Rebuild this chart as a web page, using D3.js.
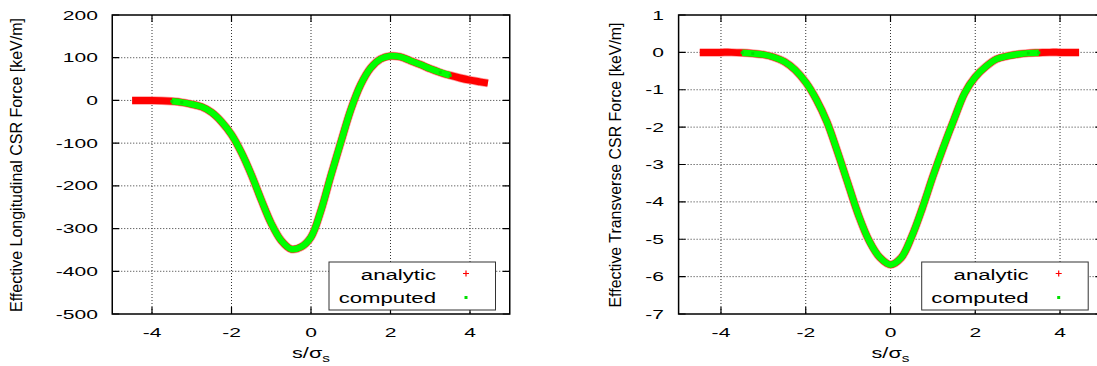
<!DOCTYPE html>
<head>
  <meta charset="utf-8">
  <script src="https://d3js.org/d3.v7.min.js"></script>
  <style>
    body { margin:0; background:#fff; overflow:hidden; }
    text { font-family: "Liberation Sans", Arial, sans-serif; fill:#000; }
  </style>
</head>
<body>
  <script>
    // longitudinal force, analytic (red) and computed (green)
    var sLong = [-4.5,-4.25,-4,-3.75,-3.5,-3.25,-3,-2.75,-2.5,-2.25,-2,-1.75,-1.5,-1.25,-1,-0.75,-0.5,-0.25,0,0.25,0.5,0.75,1,1.25,1.5,1.75,2,2.25,2.5,2.75,3,3.25,3.5,3.75,4,4.25,4.45];
    var fLong = [0,0,0,-0.5,-2,-4.5,-9,-15,-28,-50,-80,-122,-174,-233,-288,-328,-348,-343,-320,-258,-176,-98,-22,37,76,97,104,102,93,84,74,65.5,58.5,52.5,47.5,43.5,40.5];
    var sLongComp = [-3.5,-3.25,-3,-2.75,-2.5,-2.25,-2,-1.75,-1.5,-1.25,-1,-0.75,-0.5,-0.25,0,0.25,0.5,0.75,1,1.25,1.5,1.75,2,2.25,2.5,2.75,3,3.25,3.5];
    var fLongComp = [-2,-4.5,-9,-15,-28,-50,-80,-122,-174,-233,-288,-328,-348,-343,-320,-258,-176,-98,-22,37,76,97,104,102,93,84,74,65.5,58.5];

    // transverse force
    var sTrans = [-4.5,-4.25,-4,-3.75,-3.5,-3.25,-3,-2.75,-2.5,-2.25,-2,-1.75,-1.5,-1.25,-1,-0.75,-0.5,-0.25,0,0.25,0.5,0.75,1,1.25,1.5,1.75,2,2.25,2.5,2.75,3,3.25,3.5,3.75,4,4.25,4.45];
    var fTrans = [0,0,0,0,-0.01,-0.03,-0.06,-0.13,-0.25,-0.47,-0.8,-1.26,-1.86,-2.66,-3.52,-4.37,-5.05,-5.49,-5.68,-5.5,-4.93,-4.17,-3.32,-2.53,-1.79,-1.09,-0.66,-0.38,-0.18,-0.1,-0.05,-0.02,-0.01,0,0,0,0];
    var sTransComp = [-3.5,-3.25,-3,-2.75,-2.5,-2.25,-2,-1.75,-1.5,-1.25,-1,-0.75,-0.5,-0.25,0,0.25,0.5,0.75,1,1.25,1.5,1.75,2,2.25,2.5,2.75,3,3.25,3.5];
    var fTransComp = [-0.01,-0.03,-0.06,-0.13,-0.25,-0.47,-0.8,-1.26,-1.86,-2.66,-3.52,-4.37,-5.05,-5.49,-5.68,-5.5,-4.93,-4.17,-3.32,-2.53,-1.79,-1.09,-0.66,-0.38,-0.18,-0.1,-0.05,-0.02,-0.01];

    var xTicks = [-4, -2, 0, 2, 4];
    var yTicksLong = [200, 100, 0, -100, -200, -300, -400, -500];
    var yTicksTrans = [1, 0, -1, -2, -3, -4, -5, -6, -7];
    var legendNames = ["analytic", "computed"];

    var svg = d3.select("body").append("svg")
      .attr("width", 1097)
      .attr("height", 366);

    function zip(xs, ys) { return xs.map(function(x, i) { return [x, ys[i]]; }); }

    function panel(o) {
      var x = d3.scaleLinear().domain([-5, 5]).range(o.xr);
      var y = d3.scaleLinear().domain(o.yd).range([314, 15]);
      var g = svg.append("g");

      // grid
      g.selectAll(".gx").data(xTicks).enter().append("line")
        .attr("x1", function(d) { return x(d); }).attr("x2", function(d) { return x(d); })
        .attr("y1", 15).attr("y2", 314)
        .attr("stroke", "#333").attr("stroke-width", 1).attr("stroke-dasharray", "1,2");
      g.selectAll(".gy").data(o.yt.slice(1, -1)).enter().append("line")
        .attr("y1", function(d) { return y(d); }).attr("y2", function(d) { return y(d); })
        .attr("x1", o.xr[0]).attr("x2", o.xr[1])
        .attr("stroke", "#333").attr("stroke-width", 1).attr("stroke-dasharray", "1,2");

      // ticks (inward, mirrored)
      g.selectAll(".tx").data(xTicks).enter().append("path")
        .attr("d", function(d) { return "M" + x(d) + ",314v-7M" + x(d) + ",15v7"; })
        .attr("stroke", "#000").attr("stroke-width", 1.2);
      g.selectAll(".ty").data(o.yt).enter().append("path")
        .attr("d", function(d) { return "M" + o.xr[0] + "," + y(d) + "h7M" + o.xr[1] + "," + y(d) + "h-7"; })
        .attr("stroke", "#000").attr("stroke-width", 1.2);

      // curves
      var line = d3.line()
        .x(function(d) { return x(d[0]); })
        .y(function(d) { return y(d[1]); })
        .curve(d3.curveCatmullRom);
      var red = zip(o.s, o.f);
      var green = zip(o.sc, o.fc);
      g.append("path").datum(red).attr("d", line)
        .attr("fill", "none").attr("stroke", "#ffa0a0").attr("stroke-width", 8.5);
      g.append("path").datum(red).attr("d", line)
        .attr("fill", "none").attr("stroke", "#ff0000").attr("stroke-width", 7);
      g.append("path").datum(green).attr("d", line)
        .attr("fill", "none").attr("stroke", "#00ff00").attr("stroke-width", 6.5);
      // sparse green points at the ends of the computed range
      g.selectAll(".sq").data([green[0], green[1], green[green.length - 2], green[green.length - 1]]).enter().append("rect")
        .attr("x", function(d) { return x(d[0]) - 1.5; })
        .attr("y", function(d) { return y(d[1]) - 1.5; })
        .attr("width", 3).attr("height", 3).attr("fill", "#00e000");

      // frame
      g.append("rect").attr("x", o.xr[0]).attr("y", 15)
        .attr("width", o.xr[1] - o.xr[0]).attr("height", 299)
        .attr("fill", "none").attr("stroke", "#000").attr("stroke-width", 1.5);

      // tick labels
      g.selectAll(".lx").data(xTicks).enter().append("text")
        .attr("transform", function(d) { return "translate(" + x(d) + ",336.5) scale(1.62,1)"; })
        .attr("text-anchor", "middle").style("font-size", "13px")
        .text(function(d) { return d; });
      g.selectAll(".ly").data(o.yt).enter().append("text")
        .attr("transform", function(d) { return "translate(" + o.labX + "," + (y(d) + 4.6) + ") scale(1.62,1)"; })
        .attr("text-anchor", "end").style("font-size", "13px")
        .text(function(d) { return d; });

      // axis titles
      g.append("text")
        .attr("transform", "translate(" + o.titleX + ",165) rotate(-90)")
        .attr("text-anchor", "middle").style("font-size", "16.5px")
        .attr("textLength", o.titleLen).attr("lengthAdjust", "spacingAndGlyphs")
        .text(o.title);
      var xt = g.append("text")
        .attr("transform", "translate(" + x(0) + ",357.5) scale(1.4,1)")
        .attr("text-anchor", "middle").style("font-size", "15.5px");
      xt.append("tspan").text("s/σ");
      xt.append("tspan").attr("dy", 4).style("font-size", "11px").text("s");

      // legend
      var lg = g.append("g").attr("transform", "translate(" + o.legX + ",262)");
      lg.append("rect").attr("width", 166.5).attr("height", 48)
        .attr("fill", "#fff").attr("stroke", "#333").attr("stroke-width", 1);
      lg.selectAll("text").data(legendNames).enter().append("text")
        .attr("transform", function(d, i) { return "translate(107," + (17.5 + i * 23) + ") scale(1.44,1)"; })
        .attr("text-anchor", "end").style("font-size", "15.4px")
        .text(function(d) { return d; });
      lg.append("path").attr("d", "M134,11.5h6M137,8.5v6")
        .attr("stroke", "#ff0000").attr("stroke-width", 1.2);
      lg.append("rect").attr("x", 135.5).attr("y", 34).attr("width", 3).attr("height", 3)
        .attr("fill", "#00e000");
    }

    panel({ xr: [112.25, 509.75], yd: [-500, 200], yt: yTicksLong, s: sLong, f: fLong,
      sc: sLongComp, fc: fLongComp, labX: 98, titleX: 22, titleLen: 294,
      title: "Effective Longitudinal CSR Force [keV/m]", legX: 329 });
    panel({ xr: [678.6, 1102.4], yd: [-7, 1], yt: yTicksTrans, s: sTrans, f: fTrans,
      sc: sTransComp, fc: fTransComp, labX: 664, titleX: 621, titleLen: 285,
      title: "Effective Transverse CSR Force [keV/m]", legX: 921.7 });
  </script>
</body>
